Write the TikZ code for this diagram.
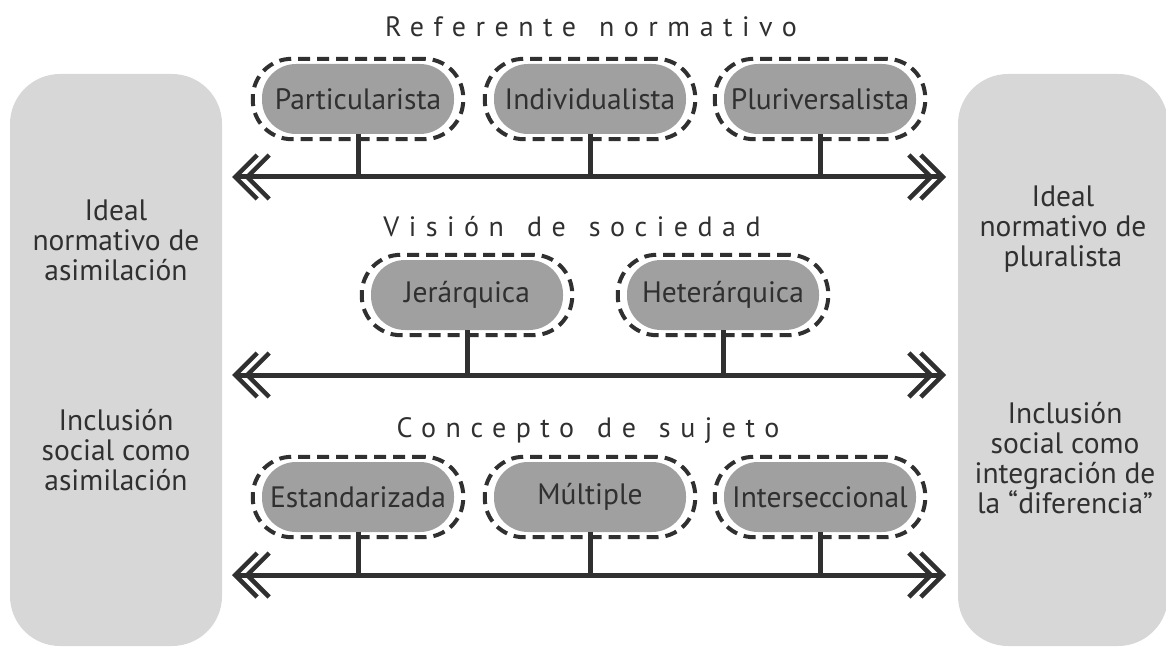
\documentclass[tikz,border=0pt]{standalone}
\usepackage{fontspec}
\setmainfont{PT Sans}
\newfontfamily\spaced[LetterSpace=34]{PT Sans}
\usetikzlibrary{arrows.meta,fit}
\definecolor{ink}{HTML}{303030}
\definecolor{pill}{HTML}{A0A0A0}
\definecolor{panel}{HTML}{D7D7D7}
\tikzstyle{side} = [fill=panel, rounded corners=50pt]
\tikzstyle{option} = [fill=pill, text=ink, rounded corners=34pt, minimum width=192pt, minimum height=70pt, inner sep=0pt, font=\fontsize{29.5}{30}\selectfont]
\tikzstyle{ring} = [draw=ink, line width=4pt, dash pattern=on 12pt off 7pt, rounded corners=39pt, inner xsep=9pt, inner ysep=5pt]
\tikzstyle{axis} = [draw=ink, line width=5pt, {Straight Barb[length=22pt,width=44pt,line width=4.5pt]}-{Straight Barb[length=22pt,width=44pt,line width=4.5pt]}]
\tikzstyle{inner axis} = [axis, shorten <=12pt, shorten >=12pt]
\tikzstyle{stem} = [draw=ink, line width=5pt]
\tikzstyle{heading} = [text=ink, anchor=base, font=\spaced\fontsize{28}{30}\selectfont]
\tikzstyle{sidetext} = [text=ink, align=center, font=\fontsize{29.5}{30}\selectfont]

\begin{document}
\begin{tikzpicture}[x=1pt,y=-1pt]
	\useasboundingbox (0,0) rectangle (1166,647);
	\path[side] (10,74) rectangle (222,646);
	\path[side] (958,74) rectangle (1168,646);

	\node[sidetext] (ideala) at (116,240) {Ideal\\normativo de\\asimilación};
	\node[sidetext] (inclua) at (116,450) {Inclusión\\social como\\asimilación};
	\node[sidetext] (idealp) at (1063,229) {Ideal\\normativo de\\pluralista};
	\node[sidetext] (inclup) at (1065,458) {Inclusión\\social como\\integración de\\la “diferencia”};

	\node[heading] (referente) at (591,37) {Referente\hspace{6pt} normativo};
	\node[heading] (vision) at (572,236) {Visión\hspace{6pt} de\hspace{6pt} sociedad};
	\node[heading] (concepto) at (588,437) {Concepto\hspace{6pt} de\hspace{6pt} sujeto};

	\coordinate (l1) at (232,177);
	\coordinate (r1) at (946,177);
	\coordinate (l2) at (232,375);
	\coordinate (r2) at (946,375);
	\coordinate (l3) at (232,575);
	\coordinate (r3) at (946,575);

	\node[option] (partic) at (358,99) {Particularista};
	\node[option] (indiv) at (590,99) {Individualista};
	\node[option] (pluri) at (820,99) {Pluriversalista};
	\node[option] (jerar) at (467,295) {Jerárquica};
	\node[option] (heter) at (723,295) {Heterárquica};
	\node[option] (estan) at (358,497) {Estandarizada};
	\node[option] (multi) at (590,497) {Múltiple};
	\node[option] (inter) at (820,497) {Interseccional};

	\foreach \n in {partic,indiv,pluri,jerar,heter,estan,multi,inter}
		\node[ring, fit=(\n)] (\n r) {};

	\draw[axis] (l1) -- (r1);
	\draw[inner axis] (l1) -- (r1);
	\draw[axis] (l2) -- (r2);
	\draw[inner axis] (l2) -- (r2);
	\draw[axis] (l3) -- (r3);
	\draw[inner axis] (l3) -- (r3);

	\foreach \n in {partic,indiv,pluri}
		\draw[stem] (\n.south) -- (\n.south |- l1);
	\foreach \n in {jerar,heter}
		\draw[stem] (\n.south) -- (\n.south |- l2);
	\foreach \n in {estan,multi,inter}
		\draw[stem] (\n.south) -- (\n.south |- l3);
\end{tikzpicture}
\end{document}
